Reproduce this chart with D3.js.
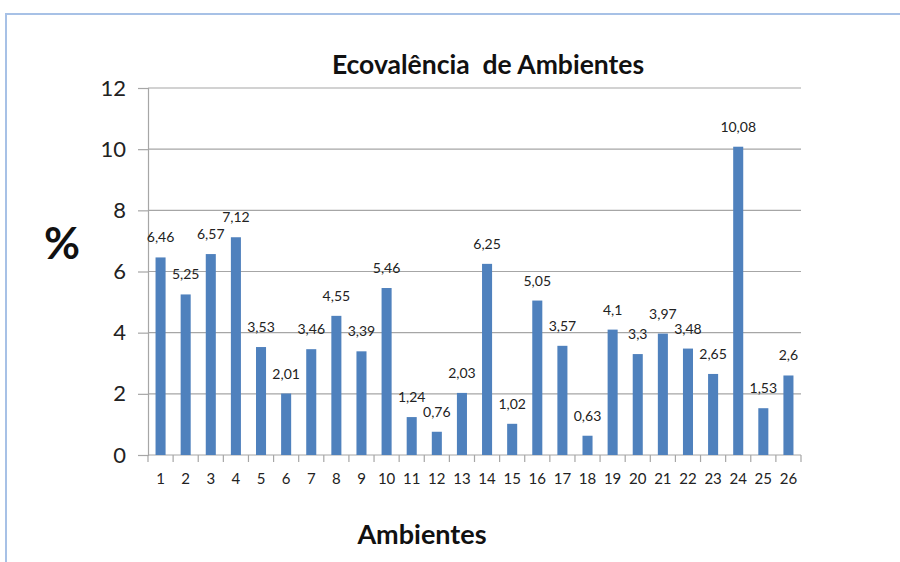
<!DOCTYPE html>
<html>
<head>
<meta charset="utf-8">
<script src="https://cdn.jsdelivr.net/npm/d3@7"></script>
<style>
  html, body { margin: 0; padding: 0; background: #fff; }
  svg { display: block; }
  text { font-family: Lato, "Open Sans", sans-serif; }
</style>
</head>
<body>
<svg id="chart" width="900" height="562"></svg>
<script>
// Ecovalência por ambiente (%)
const categories = ["1","2","3","4","5","6","7","8","9","10","11","12","13","14","15","16","17","18","19","20","21","22","23","24","25","26"];
const values = [6.46, 5.25, 6.57, 7.12, 3.53, 2.01, 3.46, 4.55, 3.39, 5.46, 1.24, 0.76, 2.03, 6.25, 1.02, 5.05, 3.57, 0.63, 4.1, 3.3, 3.97, 3.48, 2.65, 10.08, 1.53, 2.6];
const yTicks = [0, 2, 4, 6, 8, 10, 12];

const svg = d3.select("#chart");
const plot = { left: 148, right: 801, top: 88, bottom: 455 };

// chart frame
svg.append("path")
  .attr("d", `M6,562 V14 H900`)
  .attr("fill", "none")
  .attr("stroke", "#a7c1e6")
  .attr("stroke-width", 2);

const xb = d3.scaleBand().domain(categories).range([plot.left, plot.right]);
const y = d3.scaleLinear().domain([0, 12]).range([plot.bottom, plot.top]);

// gridlines
svg.append("g")
  .selectAll("line").data(yTicks.filter(t => t > 0)).join("line")
  .attr("x1", plot.left).attr("x2", plot.right)
  .attr("y1", d => y(d)).attr("y2", d => y(d))
  .attr("stroke", "#a6a6a6").attr("stroke-width", 1.2);

// y axis
const yAxis = svg.append("g").attr("transform", `translate(${plot.left},0)`)
  .call(d3.axisLeft(y).tickValues(yTicks).tickSize(10).tickPadding(12).tickFormat(d3.format("d")));
yAxis.select(".domain").attr("stroke", "#a6a6a6").attr("stroke-width", 1.2);
yAxis.selectAll(".tick line").attr("stroke", "#a6a6a6").attr("stroke-width", 1.2);
yAxis.selectAll("text").attr("font-size", 22).attr("fill", "#222").attr("font-family", "Lato, sans-serif");

// x axis: ticks at category boundaries
const xAxisG = svg.append("g");
xAxisG.append("line")
  .attr("x1", plot.left).attr("x2", plot.right)
  .attr("y1", plot.bottom).attr("y2", plot.bottom)
  .attr("stroke", "#a6a6a6").attr("stroke-width", 1.2);
const bounds = categories.map(c => xb(c)).concat([plot.right]);
xAxisG.selectAll("line.tk").data(bounds).join("line").attr("class", "tk")
  .attr("x1", d => d).attr("x2", d => d)
  .attr("y1", plot.bottom).attr("y2", plot.bottom + 7)
  .attr("stroke", "#a6a6a6").attr("stroke-width", 1.2);
xAxisG.selectAll("text").data(categories).join("text")
  .attr("x", d => xb(d) + xb.bandwidth() / 2)
  .attr("y", 484)
  .attr("text-anchor", "middle")
  .attr("font-size", 15)
  .attr("fill", "#222")
  .text(d => d);

// bars
const data = categories.map((c, i) => ({ c, v: values[i] }));
svg.append("g").selectAll("rect").data(data).join("rect")
  .attr("x", d => xb(d.c) + xb.bandwidth() * 0.3)
  .attr("width", xb.bandwidth() * 0.4)
  .attr("y", d => y(d.v))
  .attr("height", d => y(0) - y(d.v))
  .attr("fill", "#4f81bd");

// value labels
svg.append("g").selectAll("text").data(data).join("text")
  .attr("x", d => xb(d.c) + xb.bandwidth() / 2)
  .attr("y", d => y(d.v) - 15)
  .attr("text-anchor", "middle")
  .attr("font-size", 14)
  .attr("fill", "#222")
  .text(d => String(d.v).replace(".", ","));

// title and axis titles
svg.append("text")
  .attr("x", 488).attr("y", 74)
  .attr("text-anchor", "middle")
  .style("white-space", "pre")
  .attr("font-size", 26.5).attr("font-weight", "bold").attr("fill", "#111")
  .text("Ecovalência  de Ambientes");

svg.append("text")
  .attr("x", 62).attr("y", 259)
  .attr("text-anchor", "middle")
  .attr("font-size", 44).attr("font-weight", "bold").attr("fill", "#111")
  .text("%");

svg.append("text")
  .attr("x", 422).attr("y", 544)
  .attr("text-anchor", "middle")
  .attr("font-size", 27).attr("font-weight", "bold").attr("fill", "#111")
  .text("Ambientes");
</script>
</body>
</html>
